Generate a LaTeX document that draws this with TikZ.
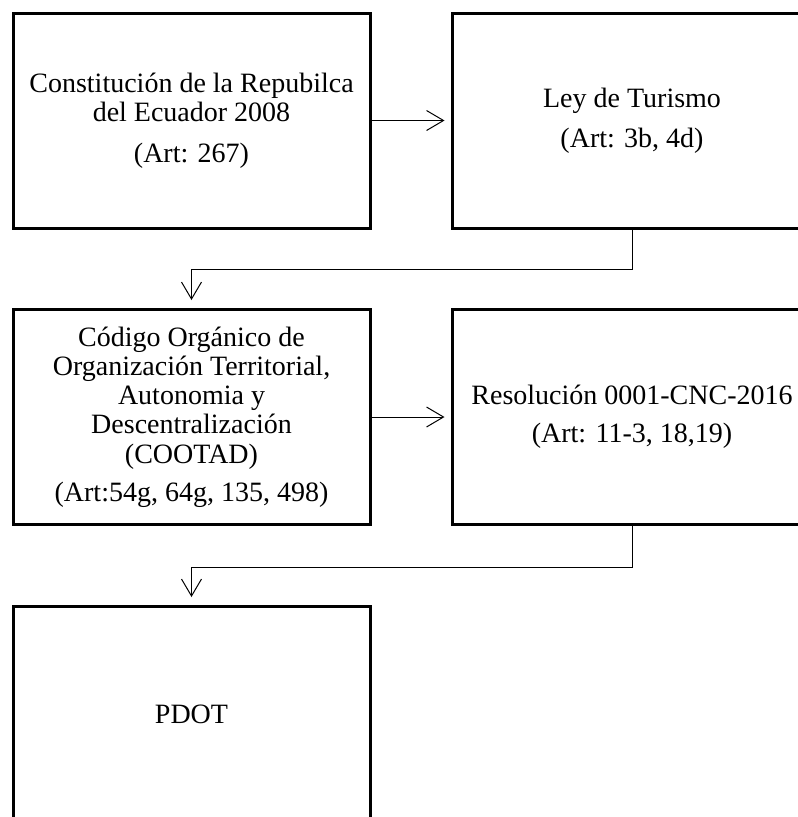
\documentclass[tikz,border=0pt]{standalone}
\usepackage{fontspec}
\setmainfont{Liberation Serif}
\usetikzlibrary{arrows.meta}
\tikzset{
  box/.style={draw, line width=3pt, align=center, inner sep=0pt,
    font=\fontsize{28}{29.25}\selectfont},
  narrow/.style={minimum width=357pt, minimum height=215pt},
  wide/.style={minimum width=360pt, minimum height=215pt},
  conn/.style={line width=1pt, -{Straight Barb[length=17pt,width=20pt,line width=1pt]}}
}
\begin{document}
\begin{tikzpicture}[x=1pt,y=-1pt]
\useasboundingbox (0,0) rectangle (798,817);
\clip (0,0) rectangle (798,817);
\fill[white] (0,0) rectangle (798,817);
\node[box,narrow] (b1) at (191.5,120.5) {Constitución de la Repubilca\\del Ecuador 2008\\[11pt](Art: 267)};
\node[box,wide] (b2) at (632,120.5) {Ley de Turismo\\[11pt](Art: 3b, 4d)};
\node[box,narrow] (b3) at (191.5,417) {Código Orgánico de\\Organización Territorial,\\Autonomia y\\Descentralización\\(COOTAD)\\[9pt](Art:54g, 64g, 135, 498)};
\node[box,wide] (b4) at (632,417) {Resolución 0001-CNC-2016\\[9pt](Art: 11-3, 18,19)};
\node[box,narrow] (b5) at (191.5,714) {PDOT};
\draw[conn, shorten >=6pt] (b1) -- (b2);
\draw[conn, shorten >=6pt] (b3) -- (b4);
\draw[conn, shorten >=8pt] (b2.south) -- ++(0,40) -| (b3.north);
\draw[conn, shorten >=8pt] (b4.south) -- ++(0,41) -| (b5.north);
\end{tikzpicture}
\end{document}
